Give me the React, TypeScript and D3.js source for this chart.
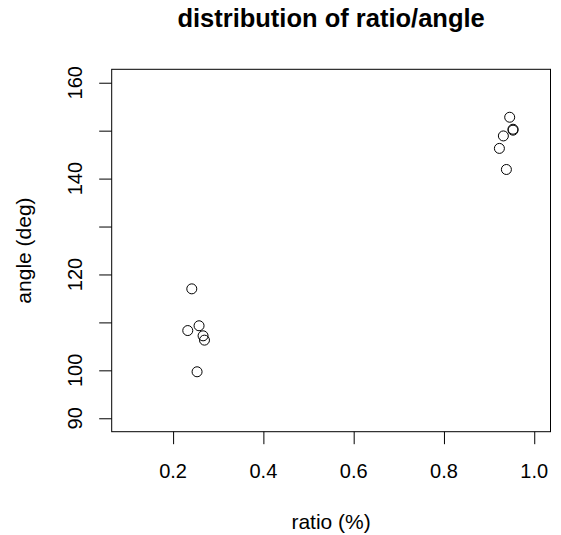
import React, { useEffect, useRef } from "react";
import * as d3 from "d3";

const ratio = [0.2414, 0.2325, 0.2575, 0.2664, 0.2695, 0.2531, 0.9456, 0.953, 0.953, 0.9316, 0.9228, 0.9383];
const angle = [117.0, 108.3, 109.3, 107.2, 106.3, 99.7, 152.8, 150.3, 150.1, 148.9, 146.3, 141.9];
const xTicks = [0.2, 0.4, 0.6, 0.8, 1.0];
const yTicks = [90, 100, 110, 120, 130, 140, 150, 160];
const yLabelTicks = [90, 100, 120, 140, 160];
const xLim = [0.1, 1.0];
const yLim = [90, 160];

const W = 561, H = 535;
const L = 111.7, R = 550.5, T = 69.3, B = 431.7;
const FONT = "'Liberation Sans', Arial, Helvetica, sans-serif";

export default function App() {
  const ref = useRef<SVGSVGElement>(null);
  useEffect(() => {
    const svg = d3.select(ref.current);
    svg.selectAll("*").remove();
    const xr = (xLim[1] - xLim[0]) * 0.04;
    const yr = (yLim[1] - yLim[0]) * 0.04;
    const x = d3.scaleLinear().domain([xLim[0] - xr, xLim[1] + xr]).range([L, R]);
    const y = d3.scaleLinear().domain([yLim[0] - yr, yLim[1] + yr]).range([B, T]);

    svg.append("rect").attr("width", W).attr("height", H).attr("fill", "#fff");

    // box
    svg.append("rect").attr("x", L).attr("y", T).attr("width", R - L).attr("height", B - T)
      .attr("fill", "none").attr("stroke", "#000").attr("stroke-width", 1);

    // x axis
    const gx = svg.append("g").attr("transform", `translate(0,${B})`)
      .call(d3.axisBottom(x).tickValues(xTicks).tickSize(12.5).tickPadding(0).tickFormat(() => ""));
    gx.select(".domain").remove();
    gx.selectAll("line").attr("stroke", "#000");
    svg.append("g").selectAll("text").data(xTicks).join("text")
      .attr("x", (d) => x(d)).attr("y", 477.7)
      .attr("text-anchor", "middle")
      .attr("font-family", FONT).attr("font-size", 20).attr("fill", "#000")
      .text((d) => d3.format(".1f")(d));

    // y axis
    const gy = svg.append("g").attr("transform", `translate(${L},0)`)
      .call(d3.axisLeft(y).tickValues(yTicks).tickSize(12.5).tickFormat(() => ""));
    gy.select(".domain").remove();
    gy.selectAll("line").attr("stroke", "#000");
    svg.append("g").selectAll("text").data(yLabelTicks).join("text")
      .attr("transform", (d) => `translate(82,${y(d)}) rotate(-90)`)
      .attr("text-anchor", "middle")
      .attr("font-family", FONT).attr("font-size", 20).attr("fill", "#000")
      .text((d) => String(d));

    // points
    svg.append("g").selectAll("circle").data(ratio.map((r, i) => [r, angle[i]])).join("circle")
      .attr("cx", (d) => x(d[0])).attr("cy", (d) => y(d[1])).attr("r", 5)
      .attr("fill", "none").attr("stroke", "#000").attr("stroke-width", 1);

    // titles
    svg.append("text").attr("x", (L + R) / 2).attr("y", 27).attr("text-anchor", "middle")
      .attr("font-family", FONT).attr("font-size", 25.5).attr("font-weight", "bold")
      .text("distribution of ratio/angle");
    svg.append("text").attr("x", (L + R) / 2).attr("y", 529).attr("text-anchor", "middle")
      .attr("font-family", FONT).attr("font-size", 21)
      .text("ratio (%)");
    svg.append("text").attr("transform", `translate(31,${(T + B) / 2}) rotate(-90)`).attr("text-anchor", "middle")
      .attr("font-family", FONT).attr("font-size", 21)
      .text("angle (deg)");
  }, []);
  return <svg ref={ref} width={W} height={H} style={{ display: "block", position: "absolute", left: 0, top: 0 }} />;
}
